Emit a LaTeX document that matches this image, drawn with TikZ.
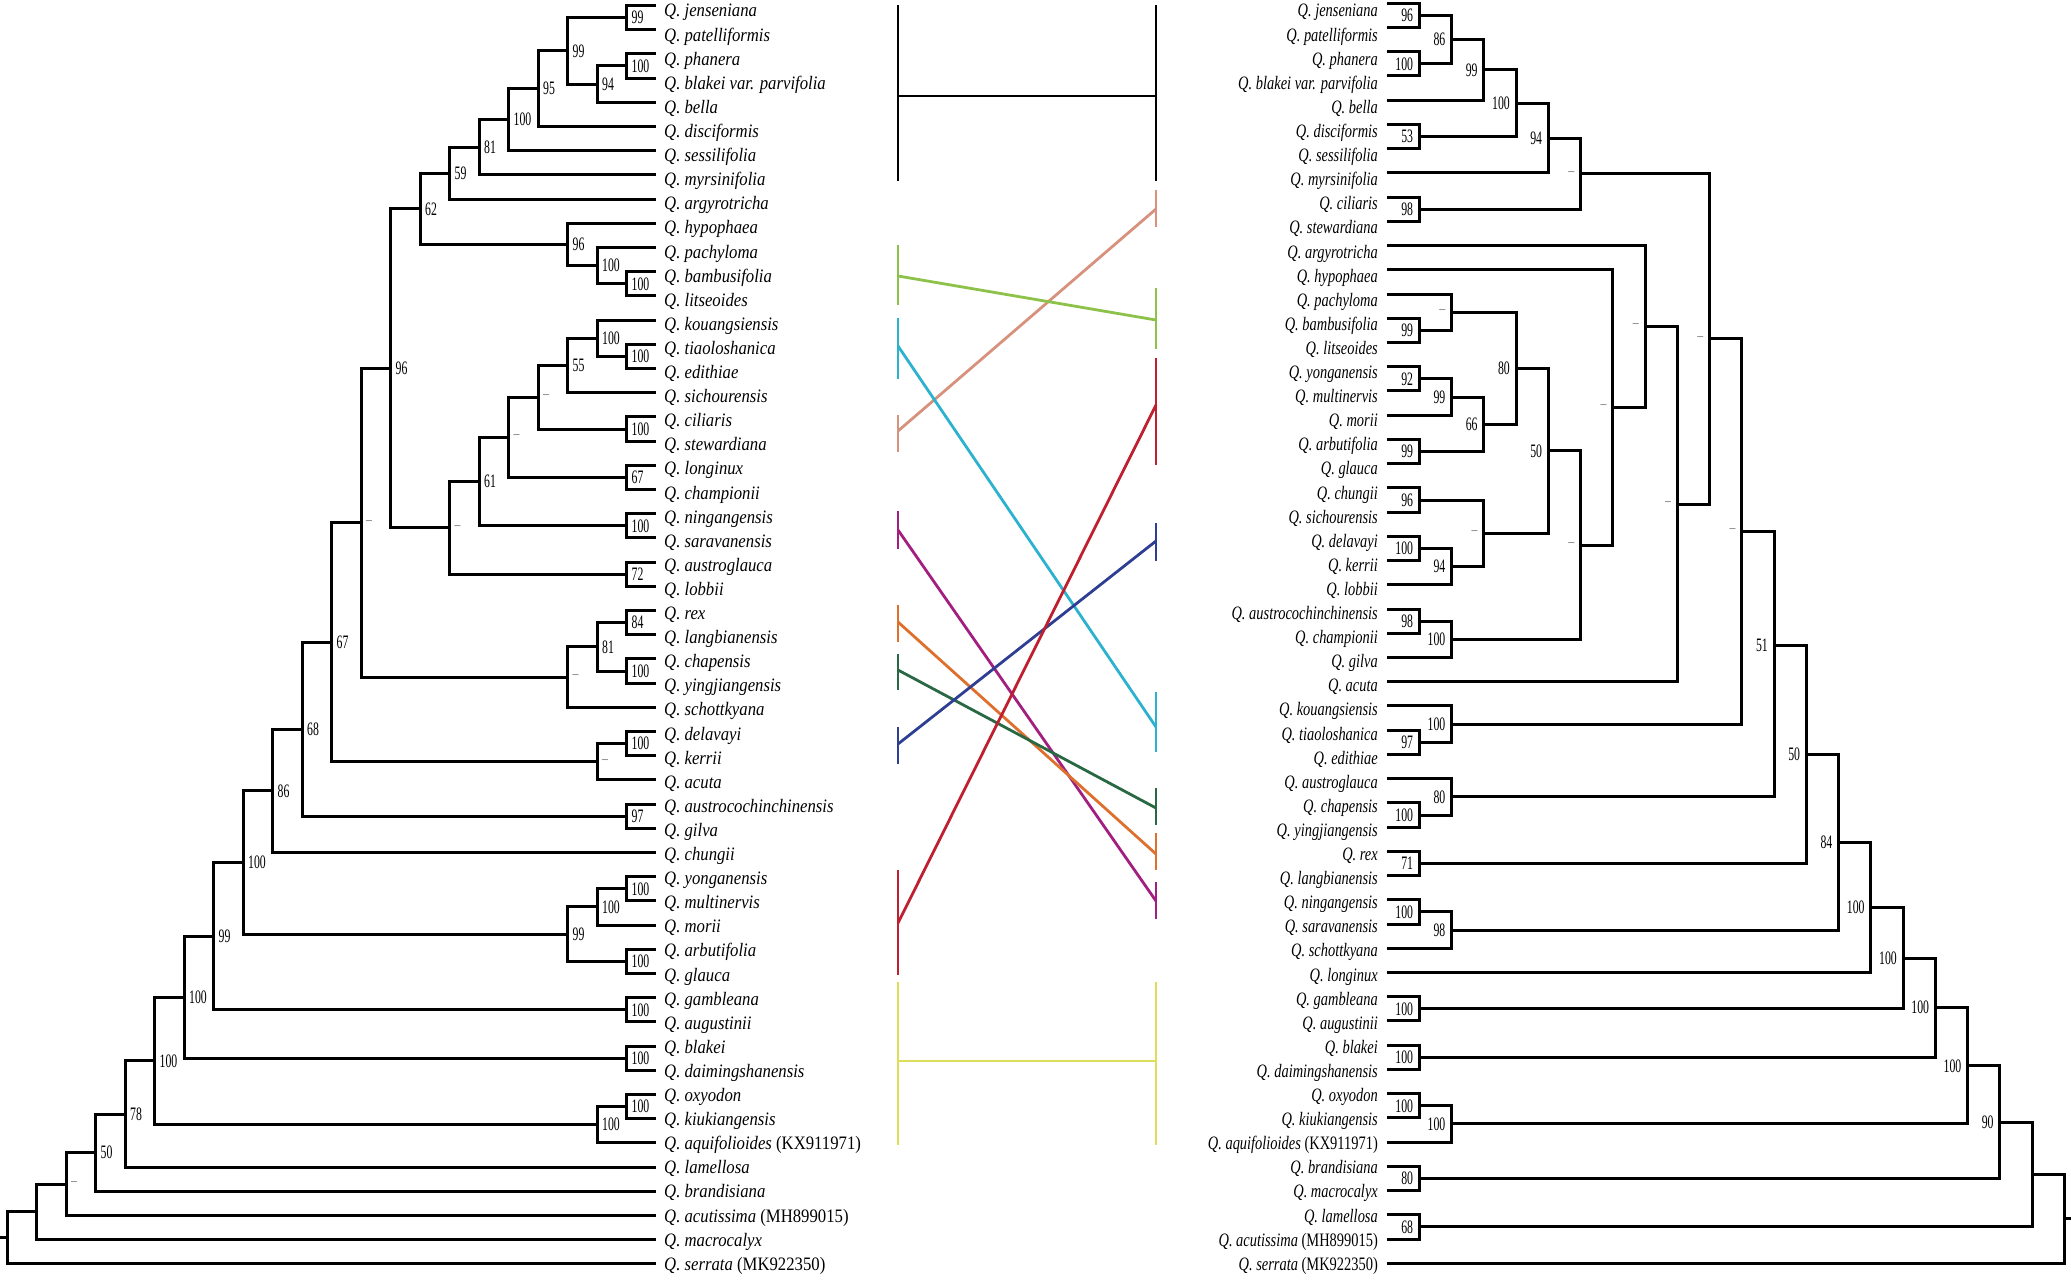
\documentclass[tikz,border=0pt]{standalone}
\usepackage{fontspec}
\setmainfont{Liberation Serif}
\newfontfamily\lfont[FakeStretch=0.88]{Liberation Serif}
\newfontfamily\rfont[FakeStretch=0.76]{Liberation Serif}
\newfontfamily\nfont[FakeStretch=0.62]{Liberation Serif}
\usetikzlibrary{calc}

\definecolor{tsalmon}{RGB}{214,146,124}
\definecolor{tlgreen}{RGB}{141,194,74}
\definecolor{tcyan}{RGB}{44,178,206}
\definecolor{tred}{RGB}{190,32,48}
\definecolor{tblue}{RGB}{46,62,146}
\definecolor{tpurple}{RGB}{162,31,128}
\definecolor{torange}{RGB}{222,112,46}
\definecolor{tdgreen}{RGB}{40,104,66}
\definecolor{tyellow}{RGB}{222,222,90}

\newcommand{\qn}[1]{\textit{Q.~#1}}
\newcommand{\nd}{\textcolor{black!45}{–}}

% left tree: name, height, upper child, lower child, support
\newcommand{\lclade}[5]{%
  \path let \p1=(#3), \p2=(#4) in coordinate (#1) at ({(656-#2*29.5)*1pt},{(\y1+\y2)/2});
  \draw[branch] (#3) -| (#1) |- (#4);
  \node[lsup] at (#1) {#5};}
% right tree: same, grows to the right
\newcommand{\rclade}[5]{%
  \path let \p1=(#3), \p2=(#4) in coordinate (#1) at ({(1387+#2*32.25)*1pt},{(\y1+\y2)/2});
  \draw[branch] (#3) -| (#1) |- (#4);
  \node[rsup] at (#1) {#5};}
\newcommand{\rcladeat}[6]{%
  \coordinate (#1) at ({(1387+#2*32.25)*1pt},{-#6pt});
  \draw[branch] (#3) -| (#1) |- (#4);
  \node[rsup] at (#1) {#5};}
% links between the trees: name, colour, left top/bottom/join, right top/bottom/join
\newcommand{\tangle}[8]{%
  \coordinate (#1lt) at (898,#3); \coordinate (#1lb) at (898,#4); \coordinate (#1l) at (898,#5);
  \coordinate (#1rt) at (1156,#6); \coordinate (#1rb) at (1156,#7); \coordinate (#1r) at (1156,#8);
  \draw[assoc,#2] (#1lt) -- (#1lb);
  \draw[assoc,#2] (#1rt) -- (#1rb);
  \draw[assoc,#2] (#1l) -- (#1r);}

\begin{document}
\begin{tikzpicture}[x=1pt, y=-1pt,
    branch/.style={line width=3pt},
    assoc/.style={line width=2.8pt},
    lsup/.style={anchor=west, inner sep=0pt, xshift=5pt, font=\nfont\fontsize{19}{22}\selectfont},
    rsup/.style={anchor=east, inner sep=0pt, xshift=-6pt, font=\nfont\fontsize{19}{22}\selectfont},
    llab/.style={anchor=base west, inner sep=0pt, font=\lfont\fontsize{19}{22}\selectfont},
    rlab/.style={anchor=base east, inner sep=0pt, font=\rfont\fontsize{19}{22}\selectfont}
  ]
  \useasboundingbox (0,0) rectangle (2071,1279);

  % leaves
  \foreach \i in {0,...,52} {
    \coordinate (L\i) at (656,{5.5+24.2*\i});
    \coordinate (R\i) at (1387,{3.3+24.23*\i});
  }

  % left labels
  \foreach \t [count=\i from 0] in {jenseniana, patelliformis, phanera, blakei var. parvifolia, bella,
      disciformis, sessilifolia, myrsinifolia, argyrotricha, hypophaea, pachyloma, bambusifolia,
      litseoides, kouangsiensis, tiaoloshanica, edithiae, sichourensis, ciliaris, stewardiana,
      longinux, championii, ningangensis, saravanensis, austroglauca, lobbii, rex, langbianensis,
      chapensis, yingjiangensis, schottkyana, delavayi, kerrii, acuta, austrocochinchinensis, gilva,
      chungii, yonganensis, multinervis, morii, arbutifolia, glauca, gambleana, augustinii, blakei,
      daimingshanensis, oxyodon, kiukiangensis, {aquifolioides\upshape\ (KX911971)}, lamellosa,
      brandisiana, {acutissima\upshape\ (MH899015)}, macrocalyx, {serrata\upshape\ (MK922350)}}
    \node[llab] (ll\i) at (664,{17+24.1*\i}) {\qn{\t}};

  % right labels
  \foreach \t [count=\i from 0] in {jenseniana, patelliformis, phanera, blakei var. parvifolia, bella,
      disciformis, sessilifolia, myrsinifolia, ciliaris, stewardiana, argyrotricha, hypophaea,
      pachyloma, bambusifolia, litseoides, yonganensis, multinervis, morii, arbutifolia, glauca,
      chungii, sichourensis, delavayi, kerrii, lobbii, austrocochinchinensis, championii, gilva, acuta,
      kouangsiensis, tiaoloshanica, edithiae, austroglauca, chapensis, yingjiangensis, rex,
      langbianensis, ningangensis, saravanensis, schottkyana, longinux, gambleana, augustinii, blakei,
      daimingshanensis, oxyodon, kiukiangensis, {aquifolioides\upshape\ (KX911971)}, brandisiana,
      macrocalyx, lamellosa, {acutissima\upshape\ (MH899015)}, {serrata\upshape\ (MK922350)}}
    \node[rlab] (rl\i) at (1378,{17+24.1*\i}) {\qn{\t}};

  % left tree
  \lclade{c1}{1}{L0}{L1}{99}
  \lclade{c2}{1}{L2}{L3}{100}
  \lclade{c3}{2}{c2}{L4}{94}
  \lclade{c4}{3}{c1}{c3}{99}
  \lclade{c5}{4}{c4}{L5}{95}
  \lclade{c6}{5}{c5}{L6}{100}
  \lclade{c7}{6}{c6}{L7}{81}
  \lclade{c8}{7}{c7}{L8}{59}
  \lclade{c9}{1}{L11}{L12}{100}
  \lclade{c10}{2}{L10}{c9}{100}
  \lclade{c11}{3}{L9}{c10}{96}
  \lclade{c12}{8}{c8}{c11}{62}
  \lclade{c13}{1}{L14}{L15}{100}
  \lclade{c14}{2}{L13}{c13}{100}
  \lclade{c15}{3}{c14}{L16}{55}
  \lclade{c16}{1}{L17}{L18}{100}
  \lclade{c17}{4}{c15}{c16}{\nd}
  \lclade{c18}{1}{L19}{L20}{67}
  \lclade{c19}{5}{c17}{c18}{\nd}
  \lclade{c20}{1}{L21}{L22}{100}
  \lclade{c21}{6}{c19}{c20}{61}
  \lclade{c22}{1}{L23}{L24}{72}
  \lclade{c23}{7}{c21}{c22}{\nd}
  \lclade{c24}{9}{c12}{c23}{96}
  \lclade{c25}{1}{L25}{L26}{84}
  \lclade{c26}{1}{L27}{L28}{100}
  \lclade{c27}{2}{c25}{c26}{81}
  \lclade{c28}{3}{c27}{L29}{\nd}
  \lclade{c29}{10}{c24}{c28}{\nd}
  \lclade{c30}{1}{L30}{L31}{100}
  \lclade{c31}{2}{c30}{L32}{\nd}
  \lclade{c32}{11}{c29}{c31}{67}
  \lclade{c33}{1}{L33}{L34}{97}
  \lclade{c34}{12}{c32}{c33}{68}
  \lclade{c35}{13}{c34}{L35}{86}
  \lclade{c36}{1}{L36}{L37}{100}
  \lclade{c37}{2}{c36}{L38}{100}
  \lclade{c38}{1}{L39}{L40}{100}
  \lclade{c39}{3}{c37}{c38}{99}
  \lclade{c40}{14}{c35}{c39}{100}
  \lclade{c41}{1}{L41}{L42}{100}
  \lclade{c42}{15}{c40}{c41}{99}
  \lclade{c43}{1}{L43}{L44}{100}
  \lclade{c44}{16}{c42}{c43}{100}
  \lclade{c45}{1}{L45}{L46}{100}
  \lclade{c46}{2}{c45}{L47}{100}
  \lclade{c47}{17}{c44}{c46}{100}
  \lclade{c48}{18}{c47}{L48}{78}
  \lclade{c49}{19}{c48}{L49}{50}
  \lclade{c50}{20}{c49}{L50}{\nd}
  \lclade{c51}{21}{c50}{L51}{}
  \lclade{c52}{22}{c51}{L52}{}
  \coordinate (lstub) at (c52 -| 0,0);
  \draw[branch] (c52) -- (lstub);

  % right tree
  \rclade{d1}{1}{R0}{R1}{96}
  \rclade{d2}{1}{R2}{R3}{100}
  \rclade{d3}{2}{d1}{d2}{86}
  \rclade{d4}{3}{d3}{R4}{99}
  \rclade{d5}{1}{R5}{R6}{53}
  \rclade{d6}{4}{d4}{d5}{100}
  \rclade{d7}{5}{d6}{R7}{94}
  \rclade{d8}{1}{R8}{R9}{98}
  \rclade{d9}{6}{d7}{d8}{\nd}
  \rclade{d10}{1}{R13}{R14}{99}
  \rclade{d11}{2}{R12}{d10}{\nd}
  \rclade{d12}{1}{R15}{R16}{92}
  \rclade{d13}{2}{d12}{R17}{99}
  \rclade{d14}{1}{R18}{R19}{99}
  \rclade{d15}{3}{d13}{d14}{66}
  \rclade{d16}{4}{d11}{d15}{80}
  \rclade{d17}{1}{R20}{R21}{96}
  \rclade{d18}{1}{R22}{R23}{100}
  \rclade{d19}{2}{d18}{R24}{94}
  \rclade{d20}{3}{d17}{d19}{\nd}
  \rclade{d21}{5}{d16}{d20}{50}
  \rclade{d22}{1}{R25}{R26}{98}
  \rclade{d23}{2}{d22}{R27}{100}
  \rclade{d24}{6}{d21}{d23}{\nd}
  \rclade{d25}{7}{R11}{d24}{\nd}
  \rclade{d26}{8}{R10}{d25}{\nd}
  \rclade{d27}{9}{d26}{R28}{\nd}
  \rclade{d28}{10}{d9}{d27}{\nd}
  \rclade{d29}{1}{R30}{R31}{97}
  \rclade{d30}{2}{R29}{d29}{100}
  \rclade{d31}{11}{d28}{d30}{\nd}
  \rclade{d32}{1}{R33}{R34}{100}
  \rclade{d33}{2}{R32}{d32}{80}
  \rcladeat{d34}{12}{d31}{d33}{51}{645}
  \rclade{d35}{1}{R35}{R36}{71}
  \rclade{d36}{13}{d34}{d35}{50}
  \rclade{d37}{1}{R37}{R38}{100}
  \rclade{d38}{2}{d37}{R39}{98}
  \rclade{d39}{14}{d36}{d38}{84}
  \rclade{d40}{15}{d39}{R40}{100}
  \rclade{d41}{1}{R41}{R42}{100}
  \rclade{d42}{16}{d40}{d41}{100}
  \rclade{d43}{1}{R43}{R44}{100}
  \rclade{d44}{17}{d42}{d43}{100}
  \rclade{d45}{1}{R45}{R46}{100}
  \rclade{d46}{2}{d45}{R47}{100}
  \rclade{d47}{18}{d44}{d46}{100}
  \rclade{d48}{1}{R48}{R49}{80}
  \rclade{d49}{19}{d47}{d48}{90}
  \rclade{d50}{1}{R50}{R51}{68}
  \rclade{d51}{20}{d49}{d50}{}
  \rclade{d52}{21}{d51}{R52}{}
  \coordinate (rstub) at (d52 -| 2071,0);
  \draw[branch] (d52) -- (rstub);

  % links
  \tangle{blk}{black}{5}{181}{96}{5}{181}{96}
  \tangle{sal}{tsalmon}{415}{452}{431}{190}{227}{209}
  \tangle{lgr}{tlgreen}{245}{305}{276}{288}{349}{320}
  \tangle{cya}{tcyan}{318}{379}{346}{692}{752}{727}
  \tangle{pur}{tpurple}{511}{549}{530}{882}{919}{901}
  \tangle{ora}{torange}{605}{642}{622}{833}{870}{854}
  \tangle{dgr}{tdgreen}{654}{690}{670}{788}{825}{808}
  \tangle{blu}{tblue}{727}{764}{744}{523}{561}{541}
  \tangle{red}{tred}{870}{975}{923}{358}{465}{405}
  \tangle{yel}{tyellow}{982}{1145}{1061}{982}{1145}{1061}

\end{tikzpicture}
\end{document}
